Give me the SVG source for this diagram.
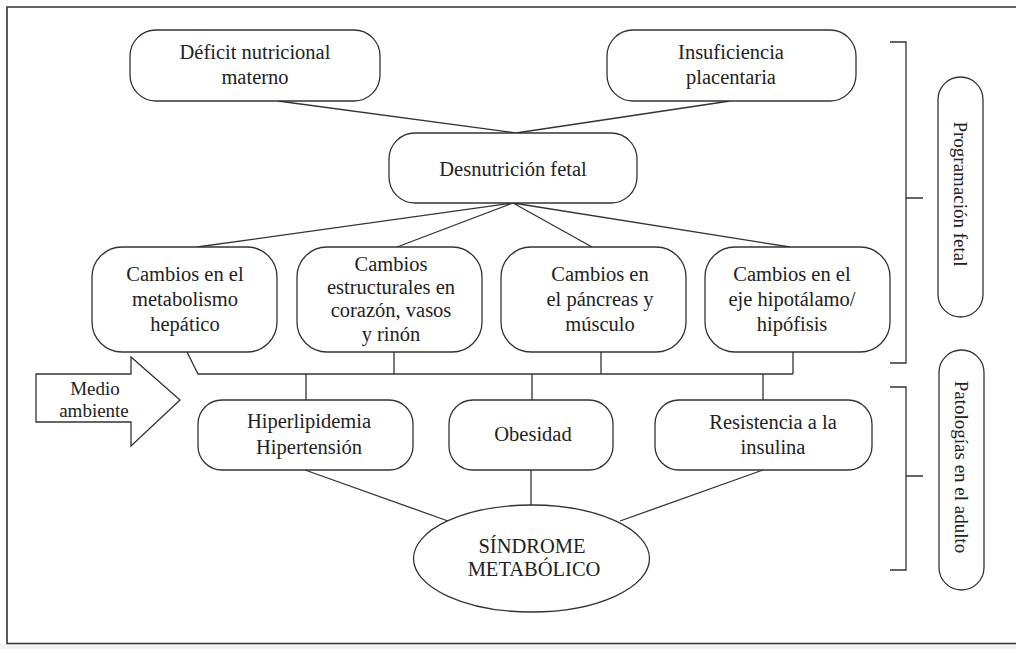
<svg xmlns="http://www.w3.org/2000/svg" width="1016" height="649" viewBox="0 0 1016 649">
<style>
.box{fill:#fff;stroke:#333;stroke-width:1.3}
.ln{fill:none;stroke:#333;stroke-width:1.3}
.t{font-family:"Liberation Serif","Times New Roman",serif;font-size:20.5px;fill:#222;text-anchor:middle}
.s{font-size:19px}
.v{font-size:19px}
</style>
<rect x="0" y="0" width="1016" height="649" fill="#fff"/>
<rect x="0" y="644" width="1016" height="5" fill="#f2f2f2"/>
<path d="M1016,7 H7 V643.5 H1016" fill="none" stroke="#333" stroke-width="1.6"/>

<g id="connectors">
<path class="ln" d="M278,101 L516,133 M730,101 L516,133"/>
<path class="ln" d="M513,203 L197,247 M513,203 L397,247 M513,203 L592,247 M513,203 L790,247"/>
<path class="ln" d="M187,352 L198,374 H793 M394,352 V374 M601,352 V374 M793,352 V374"/>
<path class="ln" d="M306,374 V400 M532,374 V400 M763,374 V400"/>
<path class="ln" d="M305,470 L448,521 M531,470 V505 M763,470 L620,521"/>
<path class="ln" d="M890,42 H906 V363 H890 M906,198 H923"/>
<path class="ln" d="M890,387 H906 V570 H890 M906,476 H923"/>
</g>

<g id="n-deficit">
<rect class="box" x="130" y="30" width="250" height="71" rx="26"/>
<text class="t" x="255" y="59">Déficit nutricional</text>
<text class="t" x="255" y="84">materno</text>
</g>
<g id="n-insuficiencia">
<rect class="box" x="607" y="30" width="249" height="71" rx="26"/>
<text class="t" x="731" y="59">Insuficiencia</text>
<text class="t" x="731" y="84">placentaria</text>
</g>
<g id="n-desnutricion">
<rect class="box" x="389" y="133" width="248" height="70" rx="26"/>
<text class="t" x="513" y="176">Desnutrición fetal</text>
</g>

<g id="n-hepatico">
<rect class="box" x="92" y="247" width="185" height="105" rx="30"/>
<text class="t" x="185" y="281">Cambios en el</text>
<text class="t" x="185" y="306">metabolismo</text>
<text class="t" x="185" y="331">hepático</text>
</g>
<g id="n-estructurales">
<rect class="box" x="297" y="247" width="185" height="105" rx="30"/>
<text class="t" x="391" y="271">Cambios</text>
<text class="t" x="391" y="294">estructurales en</text>
<text class="t" x="391" y="317">corazón, vasos</text>
<text class="t" x="391" y="341">y rinón</text>
</g>
<g id="n-pancreas">
<rect class="box" x="501" y="247" width="185" height="105" rx="30"/>
<text class="t" x="600" y="281">Cambios en</text>
<text class="t" x="600" y="306">el páncreas y</text>
<text class="t" x="600" y="331">músculo</text>
</g>
<g id="n-hipotalamo">
<rect class="box" x="705" y="247" width="185" height="105" rx="30"/>
<text class="t" x="792" y="281">Cambios en el</text>
<text class="t" x="792" y="306">eje hipotálamo/</text>
<text class="t" x="792" y="331">hipófisis</text>
</g>

<g id="n-medio">
<polygon class="box" points="36,374 131,374 131,357 180,400 131,446 131,422 36,422"/>
<text class="t s" x="95" y="395">Medio</text>
<text class="t s" x="94" y="417">ambiente</text>
</g>

<g id="n-hiperlipidemia">
<rect class="box" x="198" y="400" width="215" height="70" rx="24"/>
<text class="t" x="309" y="428">Hiperlipidemia</text>
<text class="t" x="309" y="454">Hipertensión</text>
</g>
<g id="n-obesidad">
<rect class="box" x="449" y="400" width="164" height="70" rx="24"/>
<text class="t" x="533" y="441">Obesidad</text>
</g>
<g id="n-resistencia">
<rect class="box" x="655" y="400" width="217" height="70" rx="24"/>
<text class="t" x="773" y="429">Resistencia a la</text>
<text class="t" x="773" y="454">insulina</text>
</g>

<g id="n-sindrome">
<ellipse class="box" cx="531.5" cy="558.5" rx="118" ry="53.5"/>
<text class="t" x="532" y="553">SÍNDROME</text>
<text class="t" x="534" y="576">METABÓLICO</text>
</g>

<g id="n-programacion">
<rect class="box" x="938" y="77" width="45" height="240" rx="22.5"/>
<text class="t v" transform="translate(954,194) rotate(90)">Programación fetal</text>
</g>
<g id="n-patologias">
<rect class="box" x="939" y="350" width="45" height="240" rx="22.5"/>
<text class="t v" transform="translate(955,467) rotate(90)">Patologías en el adulto</text>
</g>
</svg>
